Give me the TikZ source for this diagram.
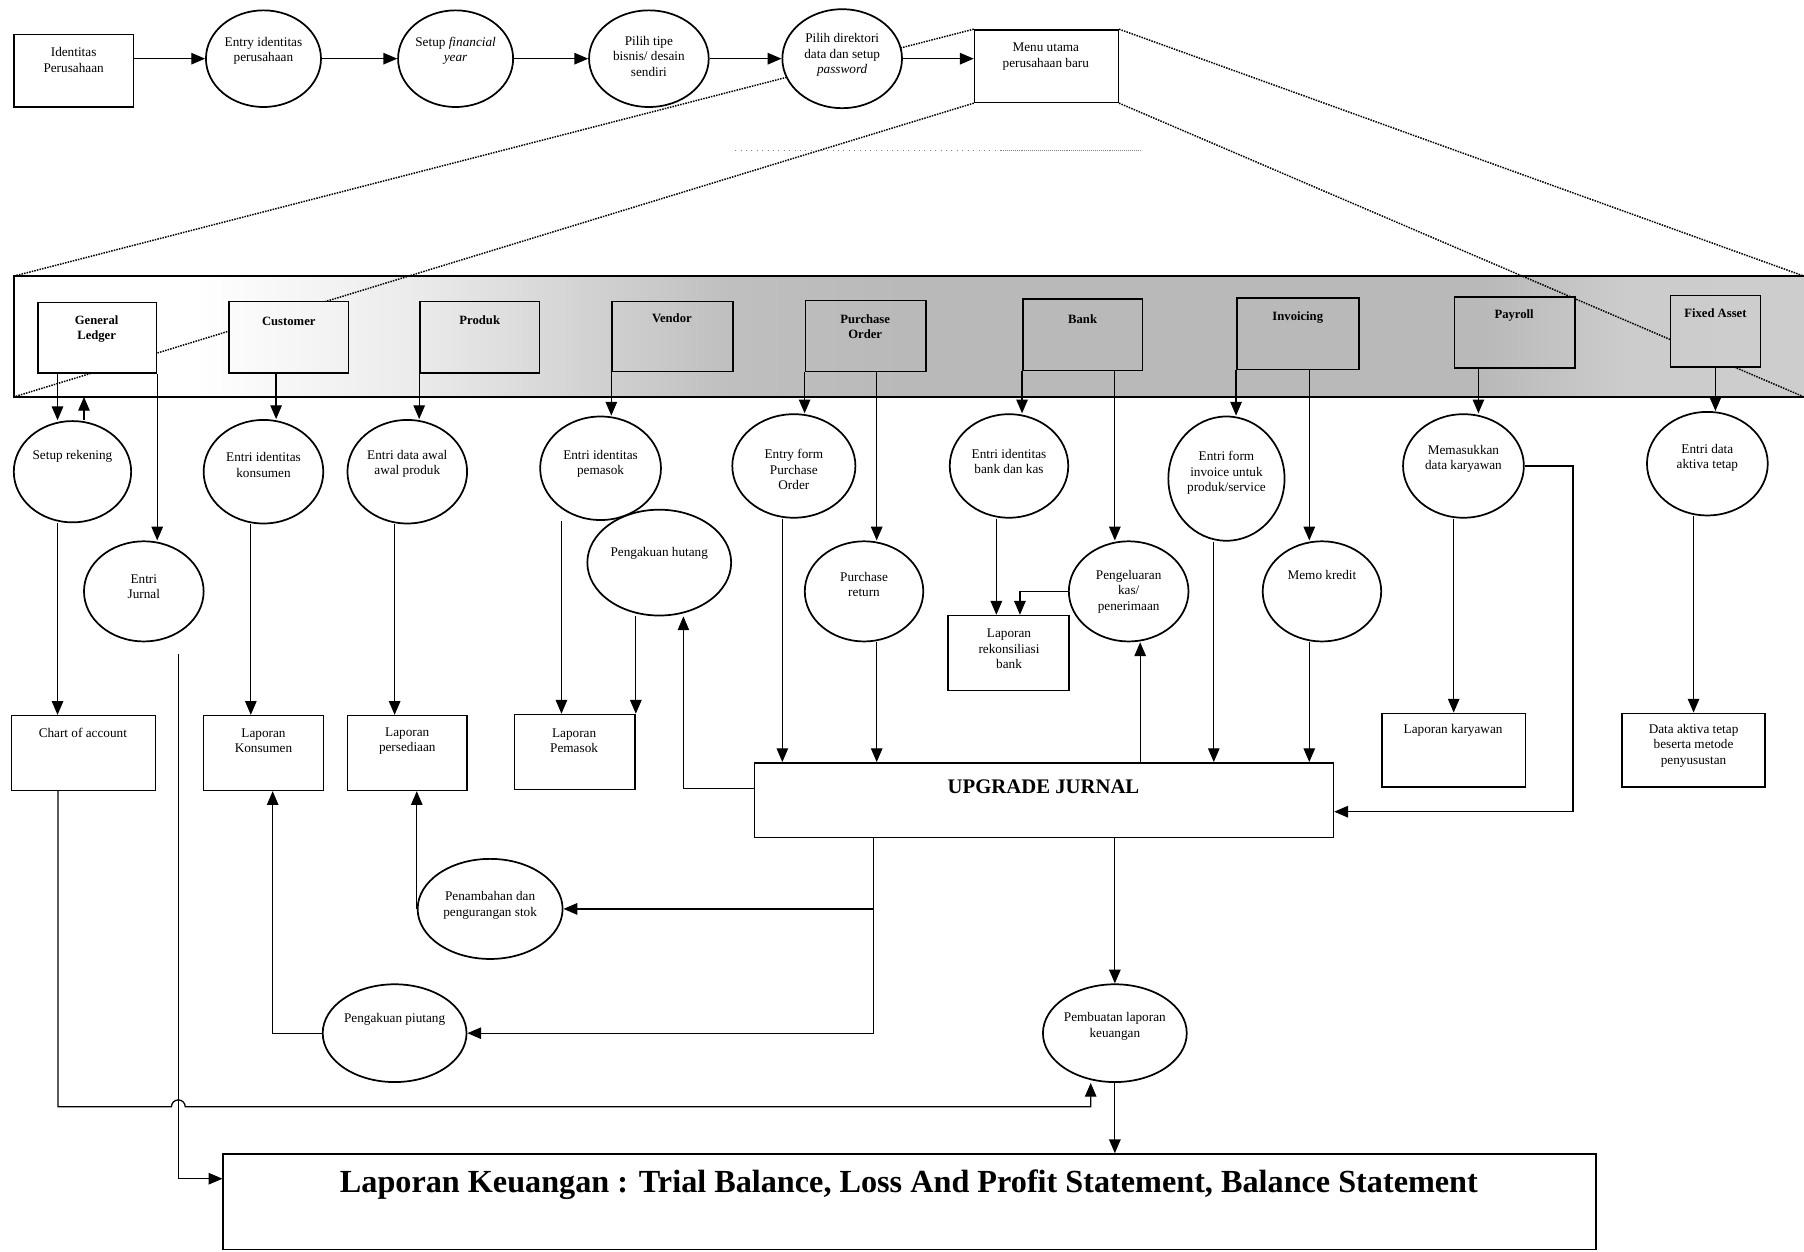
\documentclass[tikz,border=0pt]{standalone}
\usepackage{fontspec}
\setmainfont{Liberation Serif}
\usetikzlibrary{arrows.meta,shapes.geometric}

\colorlet{pitaA}{gray!15}
\colorlet{pitaB}{gray!35}
\colorlet{pitaC}{gray!50}
\colorlet{pitaD}{gray!55}
\colorlet{pitaE}{gray!40}
\colorlet{pitaF}{gray!35}
\pgfdeclarehorizontalshading{pita}{100bp}{color(0bp)=(white); color(30bp)=(white); color(36bp)=(pitaA); color(41bp)=(pitaB); color(45bp)=(pitaC); color(50bp)=(pitaD); color(66bp)=(pitaD); color(70bp)=(pitaE); color(100bp)=(pitaF)}

\begin{document}
\begin{tikzpicture}[x=1pt, y=-1pt, >={Triangle[length=12pt,width=10pt]},
	kotak/.style={draw, line width=1.3pt, fill=white, inner sep=0pt},
	proses/.style={draw, ellipse, line width=1.5pt, fill=white, inner sep=0pt},
	modul/.style={draw, line width=1.3pt, inner sep=0pt, path picture={\shade[shading=pita] (bandSW) rectangle (bandNE);}},
	teks/.style={align=center, inner sep=0pt, font=\fontsize{11.5}{13.5}\selectfont},
	tebal/.style={align=center, inner sep=0pt, font=\fontsize{11}{13}\selectfont\bfseries},
	alur/.style={->, line width=1.1pt},
	proyeksi/.style={densely dotted, line width=1.3pt}]
	\useasboundingbox (0,0) rectangle (1568,1088);
	
	% pita modul
	\coordinate (bandNW) at (12,240);
	\coordinate (bandSW) at (12,345);
	\coordinate (bandNE) at (1568,240);
	\coordinate (bandSE) at (1568,345);
	\shade[shading=pita] (bandSW) rectangle (bandNE);
	\draw[line width=1.5pt] (bandNE) -- (bandNW) -- (bandSW) -- (bandSE);
	
	\node[kotak, minimum width=125, minimum height=63] (menu) at (909.5,57.5) {};
	\draw[proyeksi] (menu.north west) -- (bandNW);
	\draw[proyeksi] (menu.south west) -- (bandSW);
	\draw[proyeksi] (menu.north east) -- (bandNE);
	\draw[proyeksi] (menu.south east) -- (bandSE);
	\draw[loosely dotted, line width=0.7pt, gray] (639,131) -- (870,131);
	\draw[densely dotted, line width=0.7pt, gray] (870,131) -- (991,131);
	
	% baris atas
	\node[kotak, minimum width=104, minimum height=63] (ident) at (64,61.5) {};
	\node[proses, minimum width=100, minimum height=84] (e1) at (229,51) {};
	\node[proses, minimum width=100, minimum height=84] (e2) at (396,51) {};
	\node[proses, minimum width=104, minimum height=84] (e3) at (564,51) {};
	\node[proses, minimum width=104, minimum height=86] (e4) at (732,51) {};
	
	\node[teks] (ident-t) at (64,52) {Identitas\\Perusahaan};
	\node[teks] (e1-t) at (229,44) {Entry identitas\\perusahaan};
	\node[teks] (e2-t) at (396,44) {Setup \textit{financial}\\\textit{year}};
	\node[teks] (e3-t) at (564,49) {Pilih tipe\\bisnis/ desain\\sendiri};
	\node[teks] (e4-t) at (732,48) {Pilih direktori\\data dan setup\\\textit{password}};
	\node[teks] (menu-t) at (909,49) {Menu utama\\perusahaan baru};
	
	\draw[alur] (ident.east |- e1) -- (e1);
	\draw[alur] (e1) -- (e2);
	\draw[alur] (e2) -- (e3);
	\draw[alur] (e3) -- (e4);
	\draw[alur] (e4) -- (e4 -| menu.west);
	
	% modul
	\node[modul, minimum width=103, minimum height=61] (gl) at (84.5,293.5) {};
	\node[modul, minimum width=104, minimum height=62] (cus) at (251,293) {};
	\node[modul, minimum width=104, minimum height=62] (prd) at (417,293) {};
	\node[modul, minimum width=105, minimum height=61] (ven) at (584.5,292.5) {};
	\node[modul, minimum width=105, minimum height=62] (po) at (752.5,292) {};
	\node[modul, minimum width=104, minimum height=62] (bank) at (941,291) {};
	\node[modul, minimum width=106, minimum height=62] (inv) at (1128,290) {};
	\node[modul, minimum width=105, minimum height=62] (pay) at (1316.5,289) {};
	\node[modul, minimum width=78, minimum height=62] (fa) at (1491,288) {};
	
	\node[tebal] (gl-t) at (84,286) {General\\Ledger};
	\node[tebal] (cus-t) at (251,279) {Customer};
	\node[tebal] (prd-t) at (417,278) {Produk};
	\node[tebal] (ven-t) at (584,277) {Vendor};
	\node[tebal] (po-t) at (752,284) {Purchase\\Order};
	\node[tebal] (bank-t) at (941,277) {Bank};
	\node[tebal] (inv-t) at (1128,276) {Invoicing};
	\node[tebal] (pay-t) at (1316,274) {Payroll};
	\node[tebal] (fa-t) at (1491,272) {Fixed Asset};
	
	% proses
	\node[proses, minimum width=102, minimum height=88] (sr) at (63,410) {};
	\node[proses, minimum width=104, minimum height=90] (eik) at (229,410) {};
	\node[proses, minimum width=104, minimum height=90] (eap) at (354,410) {};
	\node[proses, minimum width=105, minimum height=90] (eip) at (522,407) {};
	\node[proses, minimum width=107, minimum height=90] (efpo) at (690,405) {};
	\node[proses, minimum width=103, minimum height=90] (eib) at (877,405) {};
	\node[proses, minimum width=101, minimum height=108] (efi) at (1066,416) {};
	\node[proses, minimum width=105, minimum height=90] (mdk) at (1272,405) {};
	\node[proses, minimum width=105, minimum height=90] (eat) at (1484,403) {};
	\node[proses, minimum width=104, minimum height=87] (ej) at (125,514) {};
	\node[proses, minimum width=125, minimum height=92] (ph) at (573,489) {};
	\node[proses, minimum width=103, minimum height=87] (pr) at (751,514) {};
	\node[proses, minimum width=104, minimum height=87] (pkp) at (981,514) {};
	\node[proses, minimum width=103, minimum height=87] (mk) at (1149,514) {};
	\node[proses, minimum width=126, minimum height=87] (pps) at (426,790) {};
	\node[proses, minimum width=125, minimum height=85] (ppi) at (343,898) {};
	\node[proses, minimum width=125, minimum height=85] (pbl) at (969,898) {};
	
	\node[teks] (sr-t) at (63,397) {Setup rekening};
	\node[teks] (eik-t) at (229,404) {Entri identitas\\konsumen};
	\node[teks] (eap-t) at (354,403) {Entri data awal\\awal produk};
	\node[teks] (eip-t) at (522,403) {Entri identitas\\pemasok};
	\node[teks] (efpo-t) at (690,408) {Entry form\\Purchase\\Order};
	\node[teks] (eib-t) at (877,401) {Entri identitas\\bank dan kas};
	\node[teks] (efi-t) at (1066,411) {Entri form\\invoice untuk\\produk/service};
	\node[teks] (mdk-t) at (1272,399) {Memasukkan\\data karyawan};
	\node[teks] (eat-t) at (1484,398) {Entri data\\aktiva tetap};
	\node[teks] (ej-t) at (125,510) {Entri\\Jurnal};
	\node[teks] (ph-t) at (573,481) {Pengakuan hutang};
	\node[teks] (pr-t) at (751,508) {Purchase\\return};
	\node[teks] (pkp-t) at (981,514) {Pengeluaran\\kas/\\penerimaan};
	\node[teks] (mk-t) at (1149,500) {Memo kredit};
	\node[teks] (pps-t) at (426,787) {Penambahan dan\\pengurangan stok};
	\node[teks] (ppi-t) at (343,886) {Pengakuan piutang};
	\node[teks] (pbl-t) at (969,892) {Pembuatan laporan\\keuangan};
	
	% laporan
	\node[kotak, minimum width=125, minimum height=65] (coa) at (72.5,654.5) {};
	\node[kotak, minimum width=104, minimum height=65] (lk) at (229,654.5) {};
	\node[kotak, minimum width=104, minimum height=65] (lp) at (354,654.5) {};
	\node[kotak, minimum width=105, minimum height=65] (lpm) at (499.5,653.5) {};
	\node[kotak, minimum width=105, minimum height=65] (lrb) at (876.5,567.5) {};
	\node[kotak, minimum width=125, minimum height=64] (lkar) at (1263.5,652) {};
	\node[kotak, minimum width=124, minimum height=64] (dat) at (1472,652) {};
	\node[kotak, minimum width=503, minimum height=65] (uj) at (907.5,695.5) {};
	\node[kotak, minimum width=1193, minimum height=83] (lapkeu) at (790.5,1044.5) {};
	
	\node[teks] (coa-t) at (72,637) {Chart of account};
	\node[teks] (lk-t) at (229,644) {Laporan\\Konsumen};
	\node[teks] (lp-t) at (354,644) {Laporan\\persediaan};
	\node[teks] (lpm-t) at (499,644) {Laporan\\Pemasok};
	\node[teks] (lrb-t) at (877,564) {Laporan\\rekonsiliasi\\bank};
	\node[teks] (lkar-t) at (1263,635) {Laporan karyawan};
	\node[teks] (dat-t) at (1472,648) {Data aktiva tetap\\beserta metode\\penyusustan};
	\node[font=\fontsize{18}{21}\selectfont\bfseries, inner sep=0pt] (uj-t) at (907,684) {UPGRADE JURNAL};
	\node[font=\fontsize{28}{33}\selectfont\bfseries, inner sep=0pt] (lapkeu-t) at (790,1030) {Laporan Keuangan : Trial Balance, Loss And Profit Statement, Balance Statement};
	
	% modul ke proses
	\draw[alur] ([xshift=-13]sr.north |- gl.south) -- ([xshift=-13]sr.north);
	\draw[alur] ([xshift=10]sr.north) -- ([xshift=10]sr.north |- bandSW);
	\draw[alur] (gl.south east) -- (gl.south east |- ej.north);
	\draw[alur] ([xshift=11]eik.north |- cus.south) -- ([xshift=11]eik.north);
	\draw[alur] (prd.south west) -- (prd.south west |- eap.north);
	\draw[alur] (ven.south west) -- (ven.south west |- eip.north);
	\draw[alur] (po.south west) -- (po.south west |- efpo.north);
	\draw[alur] ([xshift=11]pr.north |- po.south) -- ([xshift=11]pr.north);
	\draw[alur] (bank.south west) -- (bank.south west |- eib.north);
	\draw[alur] ([xshift=-12]pkp.north |- bank.south) -- ([xshift=-12]pkp.north);
	\draw[alur] (inv.south west) -- (inv.south west |- efi.north);
	\draw[alur] ([xshift=-11]mk.north |- inv.south) -- ([xshift=-11]mk.north);
	\draw[alur] ([xshift=13]mdk.north |- pay.south) -- ([xshift=13]mdk.north);
	\draw[alur] (fa.south) -- (fa.south |- eat.north);
	
	% proses ke laporan
	\draw[alur] ([xshift=-13]sr.south) -- ([xshift=-13]sr.south |- coa.north);
	\draw[alur] ([xshift=-11]eik.south) -- ([xshift=-11]eik.south |- lk.north);
	\draw[alur] ([xshift=-11]eap.south) -- ([xshift=-11]eap.south |- lp.north);
	\draw[alur] ([xshift=-34]eip.south) -- ([xshift=-34]eip.south |- lpm.north);
	\draw[alur] (lpm.north east |- ph.south) -- (lpm.north east);
	\draw[alur] ([xshift=-10]efpo.south) -- ([xshift=-10]efpo.south |- uj.north);
	\draw[alur] ([xshift=11]pr.south) -- ([xshift=11]pr.south |- uj.north);
	\draw[alur] ([xshift=-11]eib.south) -- ([xshift=-11]eib.south |- lrb.north);
	\draw[alur] (pkp.west) -| ([xshift=10]lrb.north);
	\draw[alur] ([xshift=10]pkp.south |- uj.north) -- ([xshift=10]pkp.south);
	\draw[alur] ([xshift=-11]efi.south) -- ([xshift=-11]efi.south |- uj.north);
	\draw[alur] ([xshift=-11]mk.south) -- ([xshift=-11]mk.south |- uj.north);
	\draw[alur] (mdk.south -| lkar.north) -- (lkar.north);
	\draw[alur] (mdk.east) -- ++(42,0) |- ([yshift=-10]uj.east);
	\draw[alur] (eat.south -| dat.north) -- (dat.north);
	
	% dari upgrade jurnal
	\draw[alur, line width=0.6pt] ([yshift=10]uj.west) -| ([xshift=21]ph.south);
	\coordinate (cabang) at ([xshift=-148]uj.south);
	\draw[alur] (cabang) |- (pps.east);
	\draw[alur] (cabang) |- (ppi.east);
	\draw[alur] (pps.west) -- (pps.west |- lp.south);
	\draw[alur] (ppi.west) -| ([xshift=8]lk.south);
	\draw[alur] (pbl.north |- uj.south) -- (pbl.north);
	\draw[alur] (pbl.south) -- (pbl.south |- lapkeu.north);
	\draw[alur] ([xshift=-22]coa.south) |- (149,962) arc[start angle=180, end angle=360, radius=6] -| ([xshift=-21]pbl.south);
	\draw[alur] ([xshift=30,yshift=-10]ej.south) |- ([yshift=20]lapkeu.west);
\end{tikzpicture}
\end{document}
